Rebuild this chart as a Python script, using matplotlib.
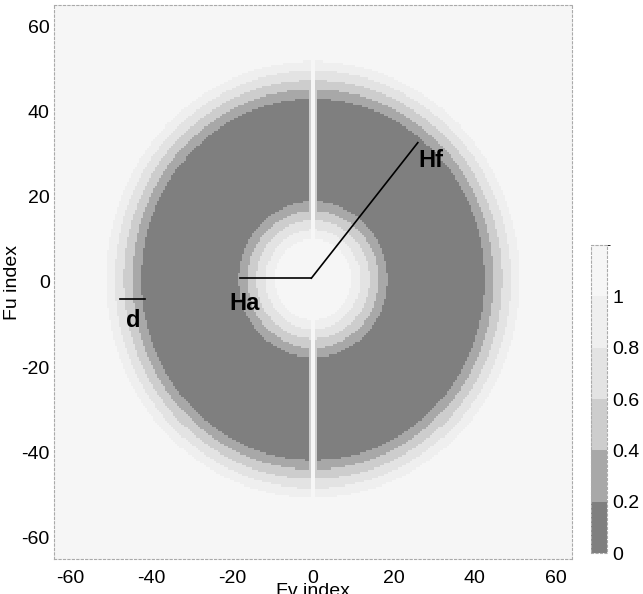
import matplotlib
matplotlib.use("Agg")
import matplotlib.pyplot as plt
import numpy as np
from matplotlib.colors import ListedColormap, BoundaryNorm

plt.rcParams["font.family"] = ["Liberation Sans", "DejaVu Sans"]
plt.rcParams["axes.unicode_minus"] = False

# grid of frequency indices (half-unit cells)
X_EDGES = np.arange(-64, 64.01, 0.5)
Y_EDGES = np.arange(-65, 65.01, 0.5)

# geometry (index units)
CENTER_Y = 0.6
OUTER_RADIUS = 42.4      # outer edge of the dark annulus
OUTER_SLOPE = 11.0       # ramp of the outer transition
INNER_RADIUS = 18.3      # inner edge of the dark annulus
INNER_SLOPE = 11.0
GAP_HALF = 1.1           # half width of the vertical slit
GAP_SLOPE = 0.6

LEVELS = [0, 0.2, 0.4, 0.6, 0.8, 1.0, 1.2]
LEVEL_COLORS = ["#7f7f7f", "#a8a8a8", "#cdcdcd", "#e3e3e3", "#efefef", "#f6f6f6"]
CBAR_TICKS = [0, 0.2, 0.4, 0.6, 0.8, 1.0]
CBAR_LABELS = ["0", "0.2", "0.4", "0.6", "0.8", "1"]
AXIS_TICKS = [-60, -40, -20, 0, 20, 40, 60]

# annotation lines (x list, y list) and labels
HA_LINE = ([-18.0, -0.4], [0.9, 0.9])
HF_LINE = ([-0.4, 25.9], [0.9, 32.7])
D_LINE = ([-47.6, -41.6], [-4.1, -4.1])
LABELS = [("Hf", 29.2, 28.6), ("Ha", -16.9, -5.0), ("d", -44.3, -9.0)]


def filter_field():
    xc = (X_EDGES[:-1] + X_EDGES[1:]) / 2
    yc = (Y_EDGES[:-1] + Y_EDGES[1:]) / 2
    X, Y = np.meshgrid(xc, yc)
    r = np.hypot(X, Y - CENTER_Y)
    v_out = np.clip(0.2 + (r - OUTER_RADIUS) / OUTER_SLOPE, 0, 1)
    v_out = np.where(r > OUTER_RADIUS, v_out, 0)
    v_in = np.clip(0.2 + (INNER_RADIUS - r) / INNER_SLOPE, 0, 1)
    v_in = np.where(r < INNER_RADIUS, v_in, 0)
    v_gap = np.clip((GAP_HALF - np.abs(X)) / GAP_SLOPE, 0, 1)
    return np.maximum.reduce([v_out, v_in, v_gap])


fig = plt.figure(figsize=(6.43, 5.94), dpi=100)
ax = fig.add_axes([54 / 643, 35 / 594, 518 / 643, 554 / 594])

cmap = ListedColormap(LEVEL_COLORS)
norm = BoundaryNorm(LEVELS, cmap.N)
mesh = ax.pcolormesh(X_EDGES, Y_EDGES, filter_field(), cmap=cmap, norm=norm)

for xs, ys in (HA_LINE, HF_LINE, D_LINE):
    ax.plot(xs, ys, color="black", lw=1.2)
for text, tx, ty in LABELS:
    ax.text(tx, ty, text, fontsize=17, fontweight="bold", ha="center", va="center")

ax.set_xlim(-64, 64)
ax.set_ylim(-65, 65)
ax.set_xticks(AXIS_TICKS)
ax.set_yticks(AXIS_TICKS)
ax.tick_params(length=0, labelsize=14, pad=3)
ax.tick_params(axis="x", pad=8)
ax.set_xlabel("Fv index", fontsize=14, labelpad=-3)
ax.set_ylabel("Fu index", fontsize=14, labelpad=0)
for sp in ax.spines.values():
    sp.set_color("#aaaaaa")
    sp.set_linestyle((0, (2, 2)))
    sp.set_linewidth(0.8)

cax = fig.add_axes([591 / 643, 41 / 594, 16 / 643, 308 / 594])
cb = fig.colorbar(mesh, cax=cax, ticks=CBAR_TICKS)
cb.set_ticklabels(CBAR_LABELS)
cb.ax.tick_params(length=0, labelsize=14, pad=4)
cb.outline.set_edgecolor("#aaaaaa")
cb.outline.set_linestyle((0, (2, 2)))
cb.outline.set_linewidth(0.8)

fig.savefig("out.png", dpi=100)
